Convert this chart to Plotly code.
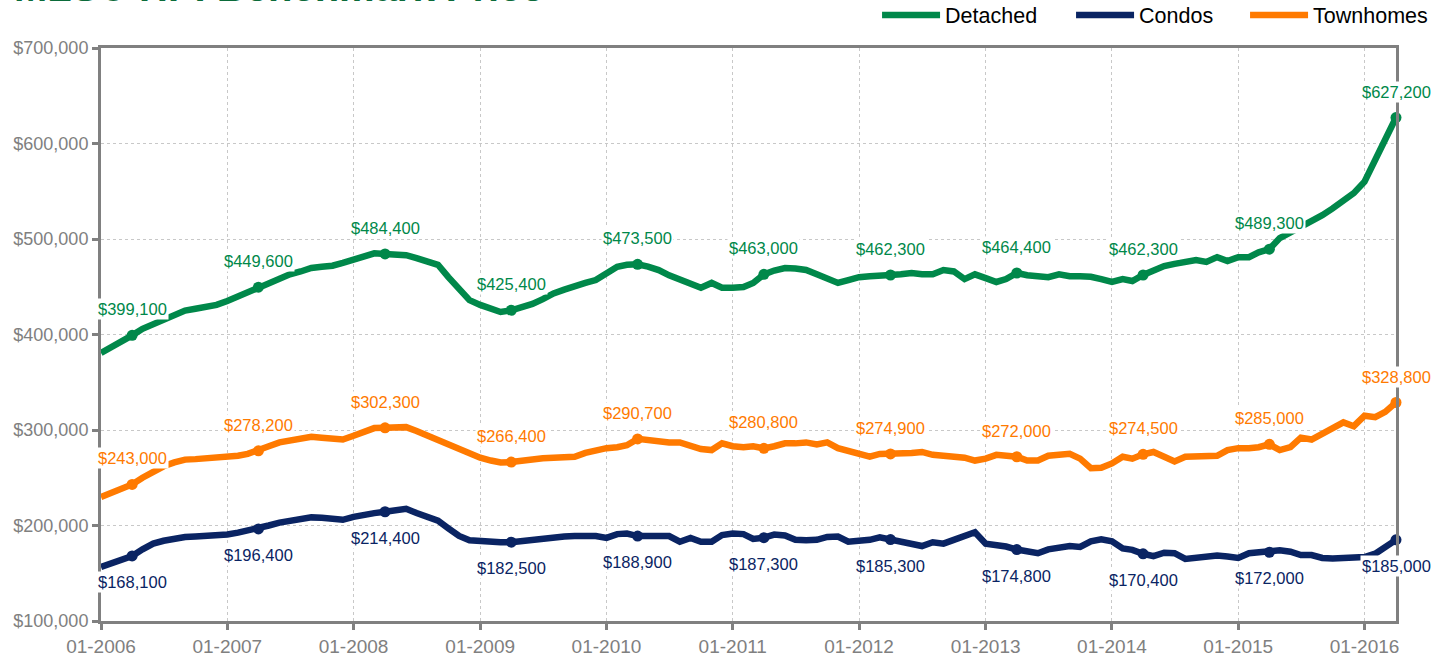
import pandas as pd
import plotly.graph_objects as go

# ---- data (monthly, 01-2006 .. 04-2016) ----
start_month = "2006-01-01"

detached = [
    380600, 386600, 393000, 399100, 406000, 411000, 416000, 421000, 425000, 427000, 429000, 431000,
    435000, 440000, 445000, 449600, 454000, 459000, 463000, 466000, 469600, 471000, 472000, 475000,
    478000, 482000, 485000, 484400, 484000, 483000, 480000, 477000, 473000, 460000, 447000, 436000,
    431000, 427000, 423600, 425400, 428000, 432000, 437000, 443000, 447000, 451000, 454000, 457000,
    465000, 471000, 473000, 473500, 471000, 467500, 462000, 458000, 454000, 449000, 454000, 449000,
    449000, 449700, 454000, 463000, 467000, 469600, 469000, 467500, 463000, 458000, 454000, 457000,
    460000, 461000, 461000, 462300, 463000, 464400, 463000, 463000, 467500, 466000, 458000, 463000,
    459000, 455000, 458000, 464400, 462000, 461000, 460000, 463000, 461000, 461000, 460500, 458000,
    455000, 458000, 456000, 462300, 467000, 471600, 474000, 476000, 478000, 476000, 481000, 477000,
    481000, 481000, 486000, 489300, 501000, 507000, 512600, 518000, 525000, 532000, 540000, 548000,
    560000, 583000, 605800, 627200,
]

condos = [
    156500, 160000, 164000, 168100, 175000, 181000, 184000, 186500, 188000, 188500, 189000, 189500,
    190500, 192500, 194500, 196400, 200000, 203000, 205000, 207000, 208500, 208000, 207000, 206000,
    209000, 211500, 213000, 214400, 216000, 217500, 213000, 209000, 205000, 197000, 189000, 184500,
    183500, 183000, 182500, 182500, 184000, 185000, 186000, 187500, 188500, 189000, 189000, 189000,
    187000, 191000, 191500, 188900, 189000, 188500, 189000, 183000, 187000, 183000, 183000, 190000,
    191500, 191000, 186000, 187300, 190500, 189500, 185000, 184500, 185000, 188000, 188500, 183000,
    183500, 185000, 187500, 185300, 183000, 181000, 178500, 182500, 181000, 185000, 189000, 193000,
    181000, 180000, 178000, 174800, 173000, 171000, 175000, 177000, 178500, 177500, 183500, 185500,
    183500, 176000, 174500, 170400, 168000, 171500, 171000, 165000, 166000, 166000, 168500, 167500,
    166000, 171000, 171500, 172000, 174000, 172500, 169000, 169000, 166000, 165500, 166500, 166500,
    167000, 170500, 177000, 185000,
]

townhomes = [
    229800, 234000, 238000, 243000, 250000, 256000, 262000, 266000, 269000, 269500, 270000, 270500,
    271500, 273000, 275000, 278200, 283000, 287000, 289000, 291000, 293000, 292000, 291000, 290000,
    294000, 298000, 302000, 302300, 302500, 303000, 299000, 294000, 289000, 284000, 279000, 275000,
    271000, 268000, 266000, 266400, 268000, 269500, 270500, 271000, 271500, 272000, 276000, 279000,
    281000, 282000, 284000, 290700, 289000, 287000, 287000, 287000, 283000, 280000, 279000, 286000,
    283000, 282000, 283000, 280800, 283000, 286000, 286000, 287000, 285000, 287000, 281000, 278000,
    276000, 272000, 275000, 274900, 275000, 276000, 277000, 274000, 273000, 272000, 271000, 268000,
    270000, 274000, 273000, 272000, 268000, 268000, 273000, 274000, 275000, 270000, 260000, 260500,
    265000, 272000, 270000, 274500, 277000, 272000, 267000, 272000, 272000, 272500, 273000, 279000,
    281000, 281000, 282000, 285000, 279000, 282000, 292000, 290000, 296000, 303000, 308000, 304000,
    315000, 313500, 319000, 328800,
]

series_names = ["Detached", "Condos", "Townhomes"]
series_colors = ["#00884A", "#0A2463", "#FF7A00"]
label_side = [1, -1, 1]          # labels above (+1) or below (-1) the marked point
label_month = 4                   # April of each year is marked and labelled

dates = pd.date_range(start_month, periods=len(detached), freq="MS")
all_series = [detached, condos, townhomes]
legend_widths = [121, 101, 120]

FONT = "Liberation Sans, Arial, sans-serif"

fig = go.Figure()

for name, vals, col, lw in zip(series_names, all_series, series_colors, legend_widths):
    fig.add_trace(go.Scatter(
        x=dates, y=vals, mode="lines", name=name,
        line=dict(color=col, width=6.5, shape="linear"),
        cliponaxis=False, legendwidth=lw,
    ))

for name, vals, col, side in zip(series_names, all_series, series_colors, label_side):
    mx = [d for d in dates if d.month == label_month]
    my = [v for d, v in zip(dates, vals) if d.month == label_month]
    fig.add_trace(go.Scatter(
        x=mx, y=my, mode="markers", showlegend=False,
        marker=dict(color=col, size=11), cliponaxis=False, hoverinfo="skip",
    ))
    for xx, yy in zip(mx, my):
        fig.add_annotation(
            x=xx, y=yy, xref="x", yref="y", text=f"${yy:,.0f}",
            showarrow=False, yshift=26 * side,
            font=dict(family=FONT, size=16.5, color=col),
            bgcolor="white", borderpad=1,
        )

# title, mostly above the top edge as in the original
fig.add_annotation(
    text="<b>MLS® HPI Benchmark Price</b>", xref="paper", yref="paper",
    x=0, y=1, xanchor="left", yanchor="bottom", xshift=-89, yshift=37,
    showarrow=False,
    font=dict(family=FONT, size=40, color="#0B6B3A"),
)

axis_common = dict(
    showline=True, linecolor="#808080", linewidth=3, mirror=True,
    ticks="outside", tickcolor="#808080", tickwidth=3, ticklen=6,
    showgrid=True, gridcolor="#C8C8C8", gridwidth=1, griddash="dot",
    zeroline=False, automargin=False,
)

fig.update_xaxes(
    **axis_common, type="date", range=[dates[0], dates[-1]],
    tick0=start_month, dtick="M12", tickformat="%m-%Y",
    tickfont=dict(family=FONT, size=19, color="#808080"),
)
fig.update_yaxes(
    **axis_common, range=[100000, 700000], dtick=100000, tickformat="$,.0f",
    tickfont=dict(family=FONT, size=18, color="#808080"),
)

fig.update_layout(
    width=1448, height=656,
    margin=dict(l=101, r=52, t=48, b=35, autoexpand=False),
    paper_bgcolor="white", plot_bgcolor="white",
    font=dict(family=FONT),
    legend=dict(
        orientation="h", xref="container", yref="container",
        x=0.6057, xanchor="left", y=0.977, yanchor="middle",
        font=dict(family=FONT, size=21.5, color="black"), itemwidth=58,
        bgcolor="rgba(0,0,0,0)", tracegroupgap=0,
    ),
    hovermode=False,
)

fig.write_html(
    "out.html",
    config={"displayModeBar": False},
    post_script="document.body.style.margin='0';document.body.style.overflow='hidden';",
)
